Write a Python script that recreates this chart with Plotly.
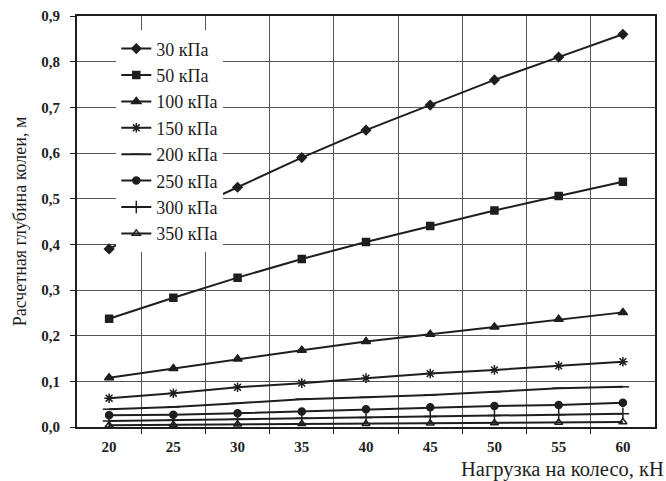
import plotly.graph_objects as go

loads = [20, 25, 30, 35, 40, 45, 50, 55, 60]
names = ["30 кПа", "50 кПа", "100 кПа", "150 кПа", "200 кПа", "250 кПа", "300 кПа", "350 кПа"]
p30 = [0.39, 0.46, 0.525, 0.59, 0.65, 0.705, 0.76, 0.81, 0.86]
p50 = [0.237, 0.283, 0.327, 0.368, 0.405, 0.44, 0.474, 0.506, 0.537]
p100 = [0.108, 0.128, 0.149, 0.168, 0.187, 0.203, 0.219, 0.236, 0.251]
p150 = [0.063, 0.074, 0.087, 0.096, 0.107, 0.117, 0.125, 0.134, 0.143]
p200 = [0.039, 0.044, 0.052, 0.061, 0.065, 0.070, 0.077, 0.085, 0.088]
p250 = [0.026, 0.027, 0.030, 0.034, 0.039, 0.043, 0.046, 0.048, 0.053]
p300 = [0.013, 0.015, 0.017, 0.019, 0.021, 0.023, 0.025, 0.027, 0.029]
p350 = [0.004, 0.005, 0.006, 0.007, 0.007, 0.008, 0.009, 0.010, 0.011]
series = [p30, p50, p100, p150, p200, p250, p300, p350]
y_ticks = [0.0, 0.1, 0.2, 0.3, 0.4, 0.5, 0.6, 0.7, 0.8, 0.9]
grid_x = [22.5, 27.5, 32.5, 37.5, 42.5, 47.5, 52.5, 57.5]

symbols = ["diamond", "square", "triangle-up", "asterisk-open", "line-ew-open",
           "circle", "cross-thin-open", "triangle-up-open"]
sizes = [7, 7, 8, 8, 9, 7, 9, 7]
ink = "#1e1e1e"

fig = go.Figure()
for name, vals, sym, sz in zip(names, series, symbols, sizes):
    fig.add_trace(go.Scatter(
        x=loads, y=vals, name=name, mode="lines+markers",
        line=dict(color=ink, width=2),
        marker=dict(symbol=sym, size=sz, color=ink, line=dict(color=ink, width=1.5)),
    ))
# invisible trace on second x-axis to carry category labels
fig.add_trace(go.Scatter(x=loads, y=[None]*len(loads), xaxis="x2", showlegend=False,
                         hoverinfo="skip"))

font = "Liberation Serif"
fig.update_layout(
    width=666, height=481,
    margin=dict(l=77, r=11, t=16, b=54, autoexpand=False),
    paper_bgcolor="white", plot_bgcolor="white",
    separators=", ",
    font=dict(family=font, color=ink, size=14),
    showlegend=True,
    legend=dict(x=0.068, y=0.965, xanchor="left", yanchor="top",
                bgcolor="white", borderwidth=0,
                font=dict(family=font, size=18, color=ink),
                tracegroupgap=0, itemwidth=30),
    xaxis=dict(range=[17.5, 62.5], tickmode="array", tickvals=grid_x,
               ticktext=[""] * len(grid_x), showgrid=True, gridcolor="#555",
               gridwidth=1, ticks="outside", ticklen=5, tickcolor=ink,
               showline=True, linecolor=ink, linewidth=2, mirror=True,
               zeroline=False, automargin=False),
    xaxis2=dict(range=[17.5, 62.5], overlaying="x", side="bottom",
                tickmode="array", tickvals=loads, ticktext=[str(v) for v in loads],
                showgrid=False, ticks="", showline=False, zeroline=False,
                automargin=False, ticklabelstandoff=9,
                tickfont=dict(family=font, size=15, color=ink, weight="bold")),
    yaxis=dict(range=[0, 0.9], tickmode="array", tickvals=y_ticks,
               tickformat=".1f", showgrid=True, gridcolor="#555", gridwidth=1,
               ticks="outside", ticklen=5, tickcolor=ink,
               showline=True, linecolor=ink, linewidth=2, mirror=True,
               zeroline=False, automargin=False, ticklabelstandoff=7,
               tickfont=dict(family=font, size=15, color=ink, weight="bold"),
               title=dict(text="Расчетная глубина колеи, м", standoff=10,
                          font=dict(family=font, size=18, color=ink))),
)
fig.add_annotation(text="Нагрузка на колесо, кН", xref="paper", yref="paper",
                   x=1.017, y=-0.1338, xanchor="right", yanchor="bottom", showarrow=False,
                   borderpad=0,
                   font=dict(family=font, size=20.5, color=ink))

fig.write_html("out.html", config={"displayModeBar": False},
               post_script="document.body.style.margin='0';")
